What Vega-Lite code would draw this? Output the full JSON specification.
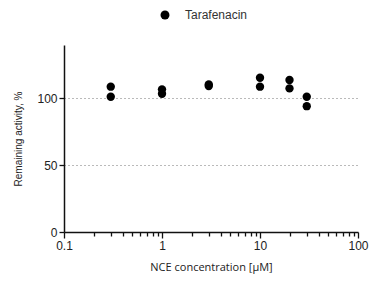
{
  "$schema": "https://vega.github.io/schema/vega-lite/v6.json",
  "width": 294,
  "height": 187,
  "autosize": "none",
  "padding": {"left": 64, "top": 45, "right": 14, "bottom": 54},
  "background": "white",
  "config": {
    "view": {"stroke": null},
    "font": "Liberation Sans"
  },
  "data": {
    "values": [
      {"conc": 0.3, "activity": 108.8, "compound": "Tarafenacin"},
      {"conc": 0.3, "activity": 101.3, "compound": "Tarafenacin"},
      {"conc": 1, "activity": 106.8, "compound": "Tarafenacin"},
      {"conc": 1, "activity": 103.5, "compound": "Tarafenacin"},
      {"conc": 3, "activity": 110.5, "compound": "Tarafenacin"},
      {"conc": 3, "activity": 109.3, "compound": "Tarafenacin"},
      {"conc": 10, "activity": 115.5, "compound": "Tarafenacin"},
      {"conc": 10, "activity": 108.8, "compound": "Tarafenacin"},
      {"conc": 20, "activity": 113.8, "compound": "Tarafenacin"},
      {"conc": 20, "activity": 107.5, "compound": "Tarafenacin"},
      {"conc": 30, "activity": 101.3, "compound": "Tarafenacin"},
      {"conc": 30, "activity": 94.2, "compound": "Tarafenacin"}
    ]
  },
  "mark": {"type": "point", "filled": true, "opacity": 1, "size": 70},
  "encoding": {
    "x": {
      "field": "conc",
      "type": "quantitative",
      "scale": {"type": "log", "domain": [0.1, 100], "nice": false},
      "axis": {
        "title": "NCE concentration [µM]",
        "titleFont": "Open Sans",
        "titleFontSize": 11,
        "titleFontWeight": "normal",
        "titleColor": "#222",
        "titlePadding": 10,
        "values": [0.1,0.2,0.3,0.4,0.5,0.6,0.7,0.8,0.9,1,2,3,4,5,6,7,8,9,10,20,30,40,50,60,70,80,90,100],
        "labelExpr": "(datum.value == 0.1 || datum.value == 1 || datum.value == 10 || datum.value == 100) ? datum.label : ''",
        "labelFontSize": 12,
        "labelColor": "#222",
        "labelPadding": 2,
        "labelFlush": false,
        "grid": false,
        "domainColor": "#111",
        "domainWidth": 1.5,
        "tickColor": "#111",
        "tickWidth": 1.3,
        "tickSize": {"condition": {"test": "datum.value == 0.1 || datum.value == 1 || datum.value == 10 || datum.value == 100", "value": 6}, "value": 4}
      }
    },
    "y": {
      "field": "activity",
      "type": "quantitative",
      "scale": {"domain": [0, 140], "nice": false},
      "axis": {
        "title": "Remaining activity, %",
        "titleFontSize": 10,
        "titleFontWeight": "normal",
        "titleColor": "#222",
        "titlePadding": 13,
        "values": [0, 50, 100],
        "labelFontSize": 12,
        "labelColor": "#222",
        "labelPadding": 2,
        "domainColor": "#111",
        "domainWidth": 1.5,
        "tickColor": "#111",
        "tickWidth": 1.3,
        "tickSize": 5,
        "grid": true,
        "gridDash": [1, 3],
        "gridColor": "#777",
        "gridWidth": 1.2,
        "gridOpacity": {"condition": {"test": "datum.value == 0", "value": 0}, "value": 1}
      }
    },
    "color": {
      "field": "compound",
      "type": "nominal",
      "scale": {"range": ["#000000"]},
      "legend": {
        "title": null,
        "orient": "none",
        "legendX": 95,
        "legendY": -36,
        "labelFontSize": 12,
        "labelColor": "#333",
        "symbolSize": 80,
        "symbolType": "circle",
        "labelOffset": 14
      }
    }
  }
}
